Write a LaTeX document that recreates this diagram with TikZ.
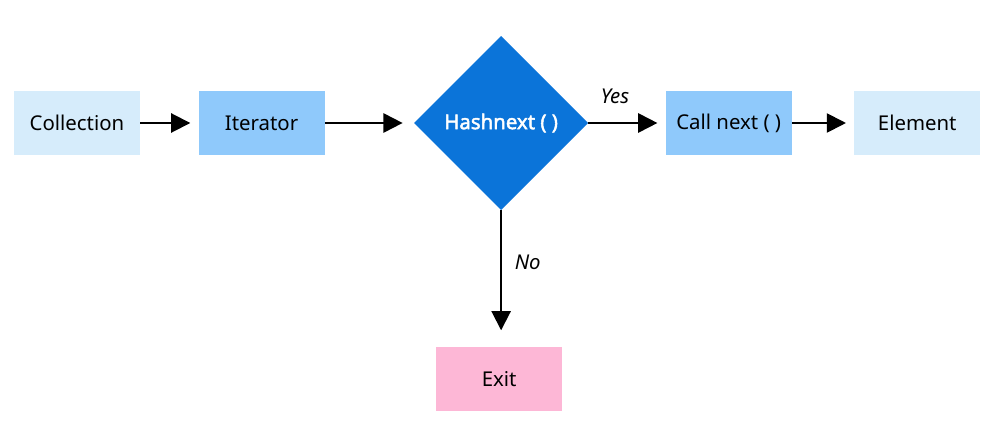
\documentclass[tikz,border=0pt]{standalone}
\usepackage{fontspec}
\setmainfont{Noto Sans}[AutoFakeBold=2.2]
\usepackage{xcolor}
\usepackage{tikz}
\usetikzlibrary{shapes.geometric, arrows.meta, positioning}
\definecolor{paleblue}{HTML}{D6ECFB}
\definecolor{midblue}{HTML}{8FC9FB}
\definecolor{deepblue}{HTML}{0B74D9}
\definecolor{softpink}{HTML}{FDB7D6}
\tikzstyle{lightbox} = [rectangle,
					   minimum width=3.15cm,
					   minimum height=1.6cm,
					   text centered,
					   fill=paleblue,
					  ]
\tikzstyle{darkbox} = [rectangle,
					  minimum width=3.15cm,
					  minimum height=1.6cm,
					  text centered,
					  fill=midblue,
					 ]
\tikzstyle{decision} = [diamond,
					   minimum width=4.35cm,
					   minimum height=4.35cm,
					   inner sep=1pt,
					   text centered,
					   fill=deepblue,
					   text=white,
					   font=\fontsize{14.5}{17}\selectfont\bfseries,
					  ]
\tikzstyle{exitbox} = [rectangle,
					  minimum width=3.15cm,
					  minimum height=1.62cm,
					  text centered,
					  fill=softpink,
					 ]
\tikzstyle{arrow} = [line width=1.4pt,-{Triangle[length=0.48cm,width=0.48cm]},shorten >=0.2cm]

\begin{document}
\begin{tikzpicture}[font=\fontsize{14.5}{17}\selectfont]

\fill[white] (0,0) rectangle (24.85,-10.8);
\useasboundingbox (0,0) rectangle (24.85,-10.8);

\node (collection) [lightbox] at (1.925,-3.075) {Collection};
\node (iterator) [darkbox, right=1.45cm of collection] {Iterator};
\node (hasnext) [decision, right=2.225cm of iterator] {Hashnext ( )};
\node (callnext) [darkbox, right=1.925cm of hasnext] {Call next ( )};
\node (element) [lightbox, right=1.55cm of callnext] {Element};
\node (exit) [exitbox, below=3.4cm of hasnext, xshift=-0.05cm] {Exit};

\draw [arrow] (collection) -- (iterator);
\draw [arrow, shorten >=0.28cm] (iterator) -- (hasnext);
\draw [arrow] (hasnext) -- node[above=0.33cm, xshift=-0.3cm] {\itshape Yes} (callnext);
\draw [arrow] (callnext) -- (element);
\draw [arrow, shorten >=0.4cm] (hasnext.south) -- node[right=0.2cm, pos=0.38] {\itshape No} (hasnext.south |- exit.north);

\end{tikzpicture}
\end{document}
